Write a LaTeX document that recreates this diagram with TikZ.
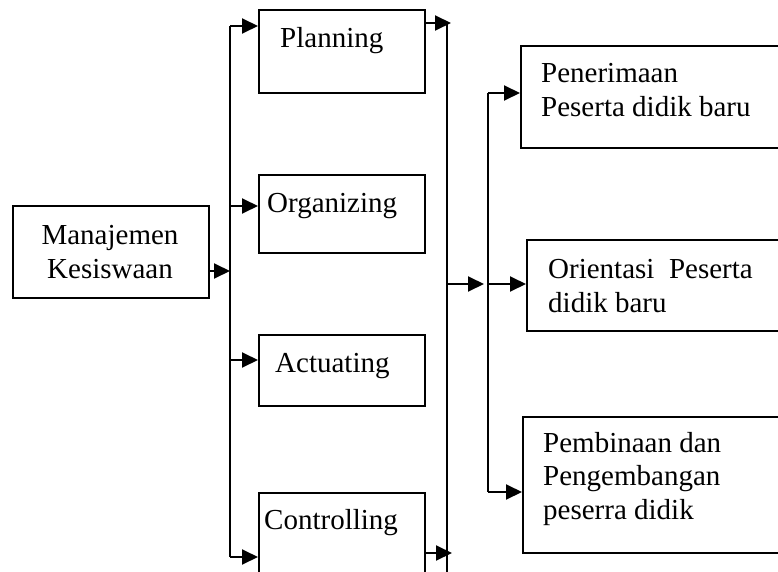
\documentclass[tikz,border=0pt]{standalone}
\usepackage{fontspec}
\setmainfont{Liberation Serif}
\usetikzlibrary{arrows.meta}
\begin{document}
\begin{tikzpicture}[x=1pt,y=-1pt,
  box/.style={draw,line width=1.7pt,rectangle,inner sep=0pt,anchor=north west},
  txt/.style={inner sep=0pt,anchor=base west,align=left,font=\fontsize{29}{34}\selectfont},
  bus/.style={line width=1.9pt},
  arr/.style={line width=1.9pt,-{Triangle[length=16pt,width=15pt]}}]
\useasboundingbox (0,0) rectangle (778,572);
\clip (0,0) rectangle (778,572);
% boxes
\node[box,minimum width=196pt,minimum height=92pt] (mk) at (12,205) {};
\node[box,minimum width=166pt,minimum height=83pt] (plan) at (258,9) {};
\node[box,minimum width=166pt,minimum height=78pt] (org) at (258,174) {};
\node[box,minimum width=166pt,minimum height=71pt] (act) at (258,334) {};
\node[box,minimum width=166pt,minimum height=110pt] (ctrl) at (258,492) {};
\node[box,minimum width=290pt,minimum height=102pt] (pen) at (520,45) {};
\node[box,minimum width=290pt,minimum height=91pt] (ori) at (526,239) {};
\node[box,minimum width=290pt,minimum height=136pt] (pem) at (522,416) {};
% texts (multi-line: base = baseline of last line)
\node[txt,align=center,anchor=base] (mkt) at (110,278) {Manajemen\\Kesiswaan};
\node[txt] (plant) at (280,48) {Planning};
\node[txt] (orgt) at (267,212) {Organizing};
\node[txt] (actt) at (275,372) {Actuating};
\node[txt] (ctrlt) at (264,529) {Controlling};
\node[txt] (pent) at (541,117) {Penerimaan\\Peserta didik baru};
\node[txt] (orit) at (548,312) {Orientasi\ \ Peserta\\didik baru};
\node[txt,font=\fontsize{29}{33.5}\selectfont] (pemt) at (543,519) {Pembinaan dan\\Pengembangan\\peserra didik};
% bus coordinates
\coordinate (l1) at (230,26);
\coordinate (l2) at (230,206);
\coordinate (l3) at (230,360);
\coordinate (l4) at (230,557);
\coordinate (lm) at (230,271);
\coordinate (r1) at (447,23);
\coordinate (r2) at (447,584);
\coordinate (rm) at (447,284);
\coordinate (rp) at (451,23);
\coordinate (rc) at (452,553);
\coordinate (s1) at (488,93);
\coordinate (s2) at (488,284);
\coordinate (s3) at (488,492);
\coordinate (st) at (484,284);
% buses
\draw[bus] (l1) -- (l4);
\draw[bus] (r1) -- (r2);
\draw[bus] (s1) -- (s3);
% arrows
\draw[arr] (mk.east |- lm) -- (lm);
\draw[arr] (l1) -- (plan.west |- l1);
\draw[arr] (l2) -- (org.west |- l2);
\draw[arr] (l3) -- (act.west |- l3);
\draw[arr] (l4) -- (ctrl.west |- l4);
\draw[arr] (plan.east |- rp) -- (rp);
\draw[arr] (ctrl.east |- rc) -- (rc);
\draw[arr] (rm) -- (st);
\draw[arr] (s1) -- (pen.west |- s1);
\draw[arr] (s2) -- (ori.west |- s2);
\draw[arr] (s3) -- (pem.west |- s3);
\end{tikzpicture}
\end{document}
